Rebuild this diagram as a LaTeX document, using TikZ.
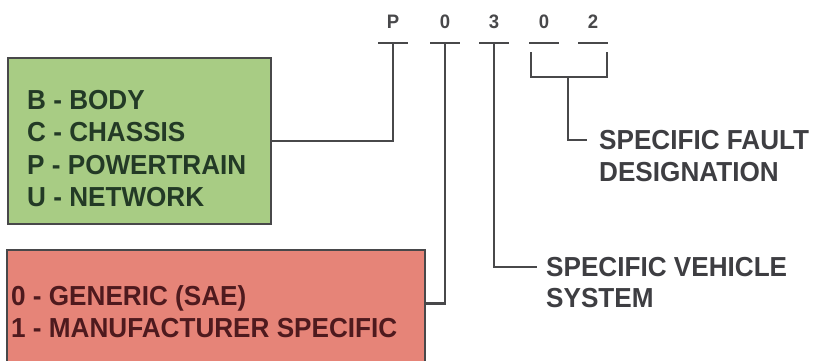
\documentclass[tikz,border=0pt]{standalone}
\usepackage{fontspec}
\setmainfont[FakeStretch=0.95]{Liberation Sans}
\usepackage{tikz}
\definecolor{sysblock}{RGB}{168,204,132}
\definecolor{genblock}{RGB}{230,132,120}
\definecolor{systext}{RGB}{35,58,38}
\definecolor{gentext}{RGB}{78,26,30}
\definecolor{wiregray}{RGB}{72,72,74}
\definecolor{tagtext}{RGB}{62,62,66}

\tikzset{
  wire/.style={draw=wiregray, line width=2.8pt},
  blockbox/.style={draw=wiregray, line width=2.8pt, inner sep=0pt},
  boxtext/.style={anchor=west, align=left, inner sep=0pt, font=\fontsize{27.5}{32.5}\selectfont\bfseries},
  tag/.style={anchor=west, inner sep=0pt, text=tagtext, font=\fontsize{27.5}{32}\selectfont\bfseries},
  digit/.style={inner sep=0pt, text=wiregray, font=\fontsize{19.5}{19.5}\selectfont\bfseries},
}

\begin{document}
\begin{tikzpicture}[x=1pt, y=-1pt]
		\def\bw{15}
		\useasboundingbox (0,0) rectangle (817,360);
		\clip (0,0) rectangle (817,360);

		% --- Code characters ---
		\node[digit] (dP) at (393,22) {P};
		\node[digit] (d0) at (445,22) {0};
		\node[digit] (d3) at (494,22) {3};
		\node[digit] (d0b) at (544,22) {0};
		\node[digit] (d2) at (593,22) {2};

		% --- Underline bars ---
		\coordinate (bP) at (dP |- 0,43);
		\coordinate (b0) at (d0 |- 0,43);
		\coordinate (b3) at (d3 |- 0,43);
		\coordinate (b0b) at (d0b |- 0,43);
		\coordinate (b2) at (d2 |- 0,43);
		\foreach \b in {bP,b0,b3,b0b,b2}
			\draw[wire] ([xshift=-\bw pt]\b) -- ([xshift=\bw pt]\b);

		% --- Blocks ---
		\node[blockbox, fill=sysblock, minimum width=263, minimum height=166] (sys) at (139.5,141) {};
		\node[boxtext, text=systext] (systxt) at (27,148.5) {B - BODY\\C - CHASSIS\\P - POWERTRAIN\\U - NETWORK};
		\node[blockbox, fill=genblock, minimum width=418, minimum height=122] (gen) at (216,311) {};
		\node[boxtext, text=gentext] (gentxt) at (11,311.5) {0 - GENERIC (SAE)\\1 - MANUFACTURER SPECIFIC};

		% --- Right labels ---
		\node[tag] (fault) at (599,140) {SPECIFIC FAULT};
		\node[tag] (faultb) at (599,172) {DESIGNATION};
		\node[tag] (veh) at (546,267) {SPECIFIC VEHICLE};
		\node[tag] (vehb) at (546,298) {SYSTEM};

		% --- Connectors ---
		\coordinate (bk) at (568,77);
		\draw[wire] (531,52) |- (bk) -| (607,52);
		\draw[wire] (sys.east) -| (bP);
		\draw[wire] (gen.north east) ++(0,55) -| (b0);
		\draw[wire] (b3) |- ([xshift=-9pt]veh.west);
		\draw[wire] (bk) |- ([xshift=-12pt]fault.west);
	\end{tikzpicture}
\end{document}
